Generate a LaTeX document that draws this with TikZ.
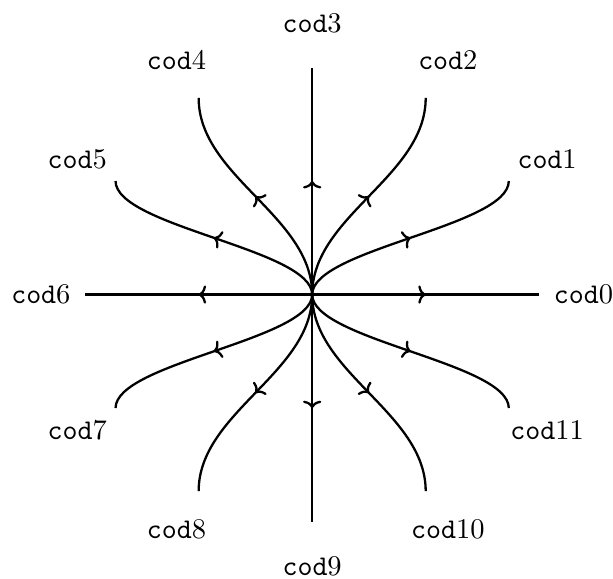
\documentclass[tikz,border=0pt]{standalone}
\usetikzlibrary{decorations.markings,arrows.meta}

\begin{document}
\begin{tikzpicture}[scale=0.7,
  orbit/.style={thick,postaction={decorate},
    decoration={markings,mark=at position 0.5 with {\arrow{To[length=2.6pt,width=6.4pt]}}}},
  lab/.style={font=\normalsize}]
  \useasboundingbox (-5.5,-5.0) rectangle (5.3,5.19);
  \coordinate (o) at (0,0);
  \foreach \n in {0,...,11} {
    \coordinate (e\n) at (\n*30:4);
    \node[lab] (c\n) at (\n*30:4.78) {\texttt{cod}\n};
  }
  % axes
  \foreach \n in {0,3,6,9}
    \draw[orbit] (o) -- (e\n);
  % curved orbits
  \foreach \n in {1,2,4,5,7,8,10,11}
    \draw[orbit] (o) .. controls ({0},{1.6*sin(\n*30)}) and ({4*cos(\n*30)},{2.4*sin(\n*30)}) .. (e\n);
\end{tikzpicture}
\end{document}
